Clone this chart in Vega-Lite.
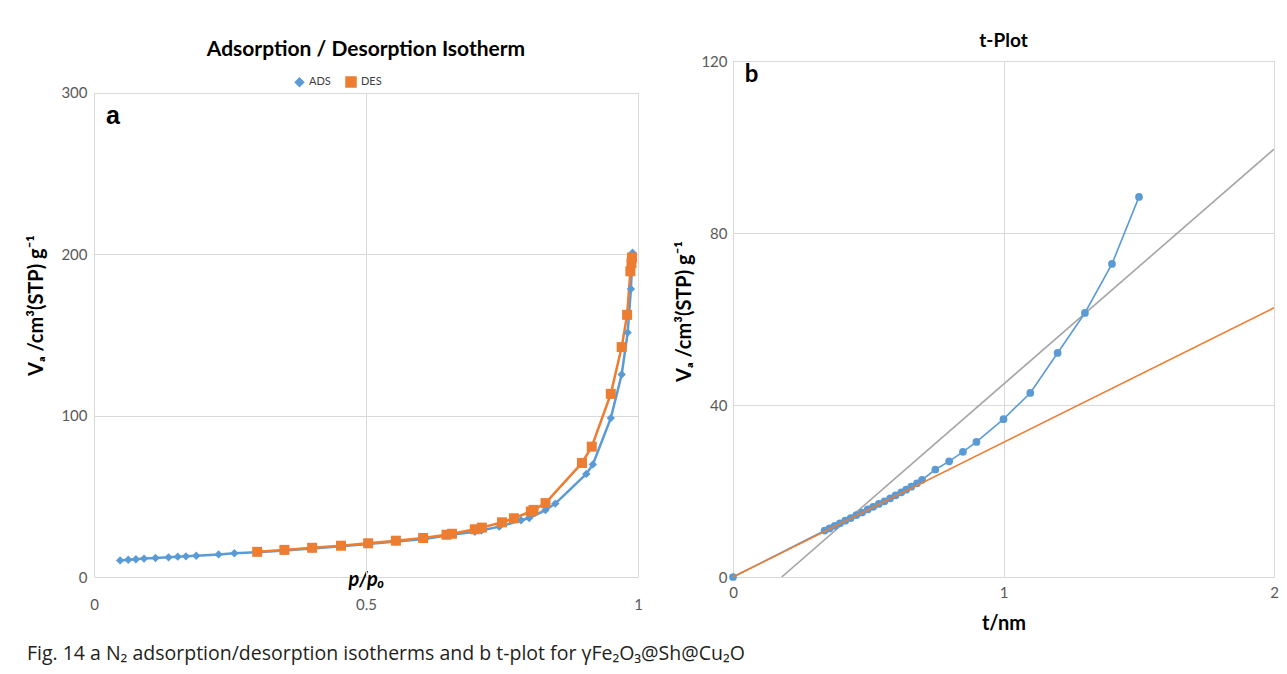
{
  "$schema": "https://vega.github.io/schema/vega-lite/v6.json",
  "background": "white",
  "padding": {"left": 26, "top": 31, "right": 4, "bottom": 8},
  "title": {
    "text": "Fig. 14  a N₂ adsorption/desorption isotherms and b t-plot for γFe₂O₃@Sh@Cu₂O",
    "orient": "bottom", "anchor": "start", "font": "Open Sans", "fontSize": 19.5,
    "fontWeight": "normal", "color": "#231f20", "offset": 11
  },
  "spacing": 31,
  "hconcat": [
    {
      "width": 544,
      "height": 516,
      "view": {"stroke": null},
      "title": {"text": "Adsorption / Desorption Isotherm", "font": "Lato", "fontSize": 21, "fontWeight": "bold", "color": "#000000", "offset": 1},
      "layer": [
        {
          "data": {"name": "iso"},
          "encoding": {
            "x": {"field": "p", "type": "quantitative", "scale": {"domain": [0, 1], "nice": false},
                  "axis": {"values": [0, 0.5, 1], "format": "~g", "labelPadding": 20, "grid": false, "labelFlush": false,
                           "title": "p/p₀", "titleFontStyle": "italic", "titleFontSize": 20, "titleY": 2, "titleBaseline": "middle"}},
            "y": {"field": "v", "type": "quantitative", "scale": {"domain": [0, 319.83], "nice": false, "zero": true},
                  "axis": {"values": [0, 100, 200, 300], "labelPadding": 7, "title": "Vₐ /cm³(STP) g⁻¹", "titlePadding": 14, "titleY": 244}}
          },
          "mark": {"type": "line", "strokeWidth": 0, "opacity": 0}
        },
        {"data": {"values": [{}]}, "mark": {"type": "rule", "color": "#D9D9D9", "strokeWidth": 1, "xOffset": 0.5}, "encoding": {"x": {"datum": 0}, "y": {"datum": 0}, "y2": {"datum": 300}}},
        {"data": {"values": [{}]}, "mark": {"type": "rule", "color": "#D9D9D9", "strokeWidth": 1, "xOffset": 0.5}, "encoding": {"x": {"datum": 0.5}, "y": {"datum": 0}, "y2": {"datum": 300}}},
        {"data": {"values": [{}]}, "mark": {"type": "rule", "color": "#D9D9D9", "strokeWidth": 1, "xOffset": 0.5}, "encoding": {"x": {"datum": 1}, "y": {"datum": 0}, "y2": {"datum": 300}}},
        {
          "data": {"name": "iso"},
          "encoding": {
            "x": {"field": "p", "type": "quantitative"},
            "y": {"field": "v", "type": "quantitative"}
          },
          "layer": [
            {
              "mark": {"type": "line", "strokeWidth": 2.5},
              "encoding": {
                "color": {"field": "series", "type": "nominal",
                          "scale": {"domain": ["ADS", "DES"], "range": ["#5B9BD5", "#ED7D31"]},
                          "legend": {"orient": "none", "legendX": 200, "legendY": 15, "direction": "horizontal", "title": null,
                                     "labelFontSize": 11, "labelFont": "Lato", "labelColor": "#404040", "symbolSize": 60, "columnPadding": 12}}
              }
            },
            {
              "mark": {"type": "point", "filled": true, "opacity": 1},
              "encoding": {
                "color": {"field": "series", "type": "nominal",
                          "scale": {"domain": ["ADS", "DES"], "range": ["#5B9BD5", "#ED7D31"]}},
                "shape": {"field": "series", "type": "nominal",
                          "scale": {"domain": ["ADS", "DES"], "range": ["diamond", "square"]}},
                "size": {"field": "series", "type": "nominal",
                         "scale": {"domain": ["ADS", "DES"], "range": [70, 100]}, "legend": null}
              }
            }
          ]
        },
        {
          "data": {"values": [{}]},
          "mark": {"type": "text", "text": "a", "font": "Liberation Sans", "fontSize": 25, "fontWeight": "bold", "align": "left", "baseline": "middle", "color": "#000000"},
          "encoding": {"x": {"datum": 0.022}, "y": {"datum": 286}}
        }
      ]
    },
    {
      "width": 541,
      "height": 516,
      "title": {"text": "t-Plot", "font": "Lato", "fontSize": 19, "fontWeight": "bold", "color": "#000000", "offset": 3},
      "layer": [
        {
          "data": {"values": [
            {"line": "grey", "t": 0.18, "v": 0},
            {"line": "grey", "t": 2.0, "v": 99.5}
          ]},
          "mark": {"type": "line", "color": "#A5A5A5", "strokeWidth": 1.6, "clip": true},
          "encoding": {
            "x": {"field": "t", "type": "quantitative", "scale": {"domain": [0, 2], "nice": false},
                  "axis": {"values": [0, 1, 2], "format": "~g", "labelFlush": false, "labelPadding": 8, "grid": true, "title": "t/nm", "titleFontSize": 20, "titlePadding": 13}},
            "y": {"field": "v", "type": "quantitative", "scale": {"domain": [0, 120], "nice": false},
                  "axis": {"values": [0, 40, 80, 120], "labelPadding": 6, "title": "Vₐ /cm³(STP) g⁻¹", "titlePadding": 6, "titleY": 250}}
          }
        },
        {
          "data": {"name": "tplot"},
          "encoding": {
            "x": {"field": "t", "type": "quantitative"},
            "y": {"field": "v", "type": "quantitative"}
          },
          "layer": [
            {"mark": {"type": "line", "color": "#5B9BD5", "strokeWidth": 1.6}},
            {"mark": {"type": "point", "filled": true, "opacity": 1, "shape": "circle", "size": 60, "color": "#5B9BD5"}}
          ]
        },
        {
          "data": {"values": [
            {"line": "orange", "t": 0, "v": 0},
            {"line": "orange", "t": 2.0, "v": 62.6}
          ]},
          "mark": {"type": "line", "color": "#ED7D31", "strokeWidth": 1.6, "clip": true},
          "encoding": {
            "x": {"field": "t", "type": "quantitative"},
            "y": {"field": "v", "type": "quantitative"}
          }
        },
        {
          "data": {"values": [{}]},
          "mark": {"type": "text", "text": "b", "font": "Lato", "fontSize": 24, "fontWeight": "bold", "align": "left", "baseline": "middle", "color": "#000000"},
          "encoding": {"x": {"datum": 0.043}, "y": {"datum": 116.7}}
        }
      ]
    }
  ],
  "datasets": {
    "iso": [
      {"series": "ADS", "p": 0.048, "v": 10.3},
      {"series": "ADS", "p": 0.063, "v": 10.7},
      {"series": "ADS", "p": 0.077, "v": 11.0},
      {"series": "ADS", "p": 0.092, "v": 11.4},
      {"series": "ADS", "p": 0.113, "v": 11.8},
      {"series": "ADS", "p": 0.137, "v": 12.2},
      {"series": "ADS", "p": 0.154, "v": 12.6},
      {"series": "ADS", "p": 0.169, "v": 12.8},
      {"series": "ADS", "p": 0.188, "v": 13.2},
      {"series": "ADS", "p": 0.229, "v": 14.0},
      {"series": "ADS", "p": 0.258, "v": 14.7},
      {"series": "ADS", "p": 0.300, "v": 15.3},
      {"series": "ADS", "p": 0.350, "v": 16.5},
      {"series": "ADS", "p": 0.401, "v": 17.7},
      {"series": "ADS", "p": 0.454, "v": 19.0},
      {"series": "ADS", "p": 0.504, "v": 20.4},
      {"series": "ADS", "p": 0.555, "v": 22.0},
      {"series": "ADS", "p": 0.608, "v": 23.6},
      {"series": "ADS", "p": 0.650, "v": 25.8},
      {"series": "ADS", "p": 0.660, "v": 26.3},
      {"series": "ADS", "p": 0.700, "v": 28.0},
      {"series": "ADS", "p": 0.712, "v": 28.8},
      {"series": "ADS", "p": 0.745, "v": 31.2},
      {"series": "ADS", "p": 0.785, "v": 35.2},
      {"series": "ADS", "p": 0.800, "v": 36.6},
      {"series": "ADS", "p": 0.830, "v": 41.5},
      {"series": "ADS", "p": 0.848, "v": 45.5},
      {"series": "ADS", "p": 0.905, "v": 63.9},
      {"series": "ADS", "p": 0.917, "v": 69.8},
      {"series": "ADS", "p": 0.950, "v": 98.5},
      {"series": "ADS", "p": 0.970, "v": 125.5},
      {"series": "ADS", "p": 0.981, "v": 151.5},
      {"series": "ADS", "p": 0.987, "v": 178.5},
      {"series": "ADS", "p": 0.990, "v": 201.0},
      {"series": "DES", "p": 0.300, "v": 15.6},
      {"series": "DES", "p": 0.350, "v": 16.8},
      {"series": "DES", "p": 0.401, "v": 18.1},
      {"series": "DES", "p": 0.454, "v": 19.4},
      {"series": "DES", "p": 0.504, "v": 20.9},
      {"series": "DES", "p": 0.555, "v": 22.5},
      {"series": "DES", "p": 0.605, "v": 24.2},
      {"series": "DES", "p": 0.648, "v": 26.2},
      {"series": "DES", "p": 0.658, "v": 26.8},
      {"series": "DES", "p": 0.700, "v": 29.6},
      {"series": "DES", "p": 0.713, "v": 30.6},
      {"series": "DES", "p": 0.750, "v": 33.9},
      {"series": "DES", "p": 0.772, "v": 36.4},
      {"series": "DES", "p": 0.803, "v": 40.6},
      {"series": "DES", "p": 0.808, "v": 41.6},
      {"series": "DES", "p": 0.830, "v": 45.8},
      {"series": "DES", "p": 0.897, "v": 70.7},
      {"series": "DES", "p": 0.915, "v": 80.8},
      {"series": "DES", "p": 0.950, "v": 113.5},
      {"series": "DES", "p": 0.970, "v": 142.5},
      {"series": "DES", "p": 0.980, "v": 162.5},
      {"series": "DES", "p": 0.986, "v": 189.5},
      {"series": "DES", "p": 0.988, "v": 194.5},
      {"series": "DES", "p": 0.989, "v": 198.0}
    ],
    "tplot": [
      {"t": 0, "v": 0}, {"t": 0.339, "v": 10.8}, {"t": 0.357, "v": 11.3}, {"t": 0.376, "v": 11.9},
      {"t": 0.395, "v": 12.5}, {"t": 0.415, "v": 13.1}, {"t": 0.435, "v": 13.7}, {"t": 0.456, "v": 14.4},
      {"t": 0.477, "v": 15.0}, {"t": 0.498, "v": 15.7}, {"t": 0.518, "v": 16.3}, {"t": 0.539, "v": 17.0},
      {"t": 0.560, "v": 17.6}, {"t": 0.581, "v": 18.3}, {"t": 0.601, "v": 19.0}, {"t": 0.622, "v": 19.7},
      {"t": 0.640, "v": 20.3}, {"t": 0.659, "v": 21.0}, {"t": 0.680, "v": 21.8}, {"t": 0.699, "v": 22.6},
      {"t": 0.748, "v": 25.0}, {"t": 0.799, "v": 26.9}, {"t": 0.850, "v": 29.1}, {"t": 0.900, "v": 31.4},
      {"t": 1.000, "v": 36.7}, {"t": 1.099, "v": 42.8}, {"t": 1.200, "v": 52.1}, {"t": 1.301, "v": 61.4},
      {"t": 1.401, "v": 72.8}, {"t": 1.501, "v": 88.4}
    ]
  },
  "config": {
    "view": {"stroke": "#D9D9D9"},
    "axis": {
      "labelFont": "Lato", "labelFontSize": 15, "labelColor": "#595959",
      "gridColor": "#D9D9D9", "domain": false, "ticks": false,
      "titleFont": "Lato", "titleFontWeight": "bold", "titleColor": "#000000", "titleFontSize": 20
    }
  }
}
